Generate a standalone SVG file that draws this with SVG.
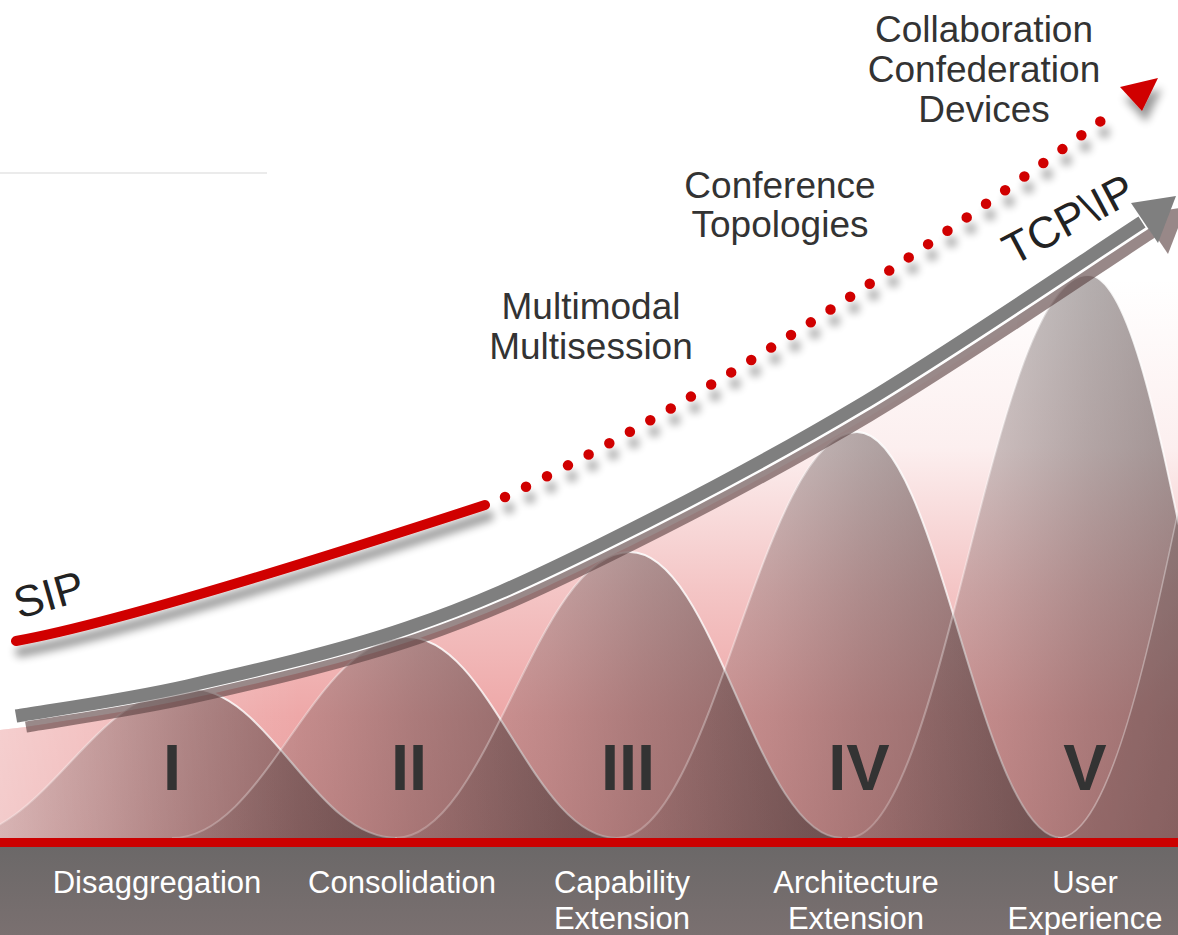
<svg xmlns="http://www.w3.org/2000/svg" width="1178" height="935" viewBox="0 0 1178 935">
<defs>
  <style>
    .lbl { font-family: "Liberation Sans", Arial, sans-serif; font-size: 37px; fill: #333333; text-anchor: middle; }
    .bar { font-family: "Liberation Sans", Arial, sans-serif; font-size: 31px; fill: #ffffff; text-anchor: middle; }
    .num { font-family: "Liberation Sans", Arial, sans-serif; font-size: 65px; font-weight: bold; fill: #333333; text-anchor: middle; }
    .rot { font-family: "Liberation Sans", Arial, sans-serif; font-size: 44px; fill: #222222; }
    .bell { fill: url(#bellFill); }
    .edge { fill: none; stroke: url(#bellEdge); stroke-width: 2; }
  </style>
  <linearGradient id="pinkBg" gradientUnits="userSpaceOnUse" x1="0" y1="280" x2="0" y2="838">
    <stop offset="0" stop-color="#ffffff"/>
    <stop offset="0.3" stop-color="#fcefef"/>
    <stop offset="0.55" stop-color="#f4c6c6"/>
    <stop offset="0.78" stop-color="#eea8a8"/>
    <stop offset="1" stop-color="#e9a0a0"/>
  </linearGradient>
  <linearGradient id="leftFade" gradientUnits="userSpaceOnUse" x1="0" y1="0" x2="300" y2="0">
    <stop offset="0" stop-color="#ffffff" stop-opacity="0.45"/>
    <stop offset="1" stop-color="#ffffff" stop-opacity="0"/>
  </linearGradient>
  <linearGradient id="bellFill" x1="0" y1="0" x2="1" y2="0">
    <stop offset="0" stop-color="#463636" stop-opacity="0.1"/>
    <stop offset="0.35" stop-color="#463636" stop-opacity="0.28"/>
    <stop offset="0.55" stop-color="#463636" stop-opacity="0.4"/>
    <stop offset="1" stop-color="#463636" stop-opacity="0.62"/>
  </linearGradient>
  <linearGradient id="bellEdge" x1="0" y1="0" x2="1" y2="0">
    <stop offset="0" stop-color="#ffffff" stop-opacity="0.2"/>
    <stop offset="0.45" stop-color="#ffffff" stop-opacity="0.45"/>
    <stop offset="0.55" stop-color="#ffffff" stop-opacity="0.9"/>
    <stop offset="1" stop-color="#ffffff" stop-opacity="0.5"/>
  </linearGradient>
  <linearGradient id="barFill" x1="0" y1="0" x2="0" y2="1">
    <stop offset="0" stop-color="#6b6868"/>
    <stop offset="1" stop-color="#7a7070"/>
  </linearGradient>
  <filter id="shadow" filterUnits="userSpaceOnUse" x="0" y="0" width="1178" height="935">
    <feGaussianBlur in="SourceAlpha" stdDeviation="4"/>
    <feOffset dx="4" dy="11" result="b"/>
    <feComponentTransfer><feFuncA type="linear" slope="0.4"/></feComponentTransfer>
    <feMerge><feMergeNode/><feMergeNode in="SourceGraphic"/></feMerge>
  </filter>
</defs>

<rect x="0" y="0" width="1178" height="935" fill="#ffffff"/>
<line x1="0" y1="173" x2="267" y2="173" stroke="#ebebeb" stroke-width="2"/>

<g id="background-area">
  <path d="M0,730 L26,727 C54.5,722 131.8,711.7 197,697 C262.2,682.3 348.2,662.5 417,639 C485.8,615.5 534.5,593.2 610,556 C685.5,518.8 779.7,469.8 870,416 C960.3,362.2 1105,263.5 1152,233 L1178,215 L1178,838 L0,838 Z" fill="url(#pinkBg)"/>
  <path d="M0,730 L26,727 C54.5,722 131.8,711.7 197,697 C262.2,682.3 348.2,662.5 417,639 C485.8,615.5 534.5,593.2 610,556 C685.5,518.8 779.7,469.8 870,416 C960.3,362.2 1105,263.5 1152,233 L1178,215 L1178,838 L0,838 Z" fill="url(#leftFade)"/>
</g>

<g id="bells">
  <g id="bell-1">
    <path class="bell" d="M-48,838 C46,838 93,688 187,688 C271,688 313,838 397,838"/>
    <path class="edge" d="M-48,838 C46,838 93,688 187,688 C271,688 313,838 397,838"/>
  </g>
  <g id="bell-2">
    <path class="bell" d="M172,838 C266,838 313,637 407,637 C491,637 533,838 617,838"/>
    <path class="edge" d="M172,838 C266,838 313,637 407,637 C491,637 533,838 617,838"/>
  </g>
  <g id="bell-3">
    <path class="bell" d="M395,838 C489,838 536,552 630,552 C714.8,552 757.2,838 842,838"/>
    <path class="edge" d="M395,838 C489,838 536,552 630,552 C714.8,552 757.2,838 842,838"/>
  </g>
  <g id="bell-4">
    <path class="bell" d="M617,838 C713,838 761,432 857,432 C939,432 980,838 1062,838"/>
    <path class="edge" d="M617,838 C713,838 761,432 857,432 C939,432 980,838 1062,838"/>
  </g>
  <g id="bell-5">
    <path class="bell" d="M848,838 C944,838 992,275 1088,275 C1166,275 1205,838 1283,838"/>
    <path class="edge" d="M848,838 C944,838 992,275 1088,275 C1166,275 1205,838 1283,838"/>
  </g>
  <g id="bell-6">
    <path d="M1058,838 C1162,838 1214,90 1318,90 L1318,838 Z" fill="#463636" fill-opacity="0.2"/>
    <path d="M1058,838 C1162,838 1214,90 1318,90" fill="none" stroke="#ffffff" stroke-opacity="0.35" stroke-width="1.5"/>
  </g>
</g>

<g id="numerals">
  <text class="num" x="172" y="790">I</text>
  <text class="num" x="409" y="790">II</text>
  <text class="num" x="628" y="790">III</text>
  <text class="num" x="859" y="790">IV</text>
  <text class="num" x="1085" y="790">V</text>
</g>

<g id="connectors">
  <g id="tcpip-arrow">
    <g transform="translate(10,11)" opacity="0.62">
      <path d="M16,716 C44.5,711 121.8,700.7 187,686 C252.2,671.3 338.2,651.5 407,628 C475.8,604.5 524.5,582.2 600,545 C675.5,507.8 769.7,458.8 860,405 C950.3,351.2 1095,252.5 1142,222" fill="none" stroke="#5a4040" stroke-width="11"/>
      <polygon points="1176,196 1131,203 1158,243" fill="#5a4040"/>
    </g>
    <path d="M16,716 C44.5,711 121.8,700.7 187,686 C252.2,671.3 338.2,651.5 407,628 C475.8,604.5 524.5,582.2 600,545 C675.5,507.8 769.7,458.8 860,405 C950.3,351.2 1095,252.5 1142,222" fill="none" stroke="#7f7f7f" stroke-width="13"/>
    <polygon points="1176,196 1131,203 1158,243" fill="#7f7f7f"/>
  </g>
  <g id="sip-arrow" filter="url(#shadow)">
    <path d="M16,641 Q133,620 485,505" fill="none" stroke="#d00000" stroke-width="10" stroke-linecap="round"/>
    <path d="M505,497 Q755,377 1113,112" fill="none" stroke="#d00000" stroke-width="10.5" stroke-linecap="round" stroke-dasharray="0 23.5"/>
    <polygon points="1158,78 1120,87 1142,111" fill="#d00000"/>
  </g>
</g>

<g id="label-sip"><text class="rot" transform="translate(19,619) rotate(-16)">SIP</text></g>
<g id="label-tcpip"><text class="rot" transform="translate(1013,266) rotate(-28)">TCP\IP</text></g>
<g id="label-multimodal">
  <text class="lbl" x="591" y="319">Multimodal</text>
  <text class="lbl" x="591" y="359">Multisession</text>
</g>
<g id="label-conference">
  <text class="lbl" x="780" y="198">Conference</text>
  <text class="lbl" x="780" y="237">Topologies</text>
</g>
<g id="label-collaboration">
  <text class="lbl" x="984" y="42">Collaboration</text>
  <text class="lbl" x="984" y="82">Confederation</text>
  <text class="lbl" x="984" y="122">Devices</text>
</g>

<g id="phase-bar">
  <rect x="0" y="846" width="1178" height="89" fill="url(#barFill)"/>
  <rect x="0" y="838" width="1178" height="9" fill="#cc0000"/>
  <g id="phase-1"><text class="bar" x="157" y="893">Disaggregation</text></g>
  <g id="phase-2"><text class="bar" x="402" y="893">Consolidation</text></g>
  <g id="phase-3"><text class="bar" x="622" y="893">Capability</text><text class="bar" x="622" y="929">Extension</text></g>
  <g id="phase-4"><text class="bar" x="856" y="893">Architecture</text><text class="bar" x="856" y="929">Extension</text></g>
  <g id="phase-5"><text class="bar" x="1085" y="893">User</text><text class="bar" x="1085" y="929">Experience</text></g>
</g>
</svg>
